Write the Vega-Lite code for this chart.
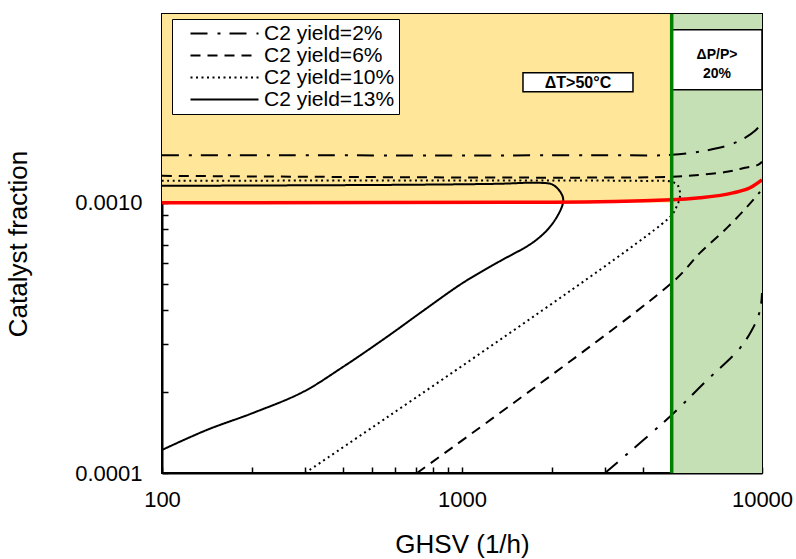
{
  "$schema": "https://vega.github.io/schema/vega-lite/v6.json",
  "width": 600,
  "height": 459,
  "autosize": {"type": "none"},
  "padding": {"left": 162, "top": 14, "right": 34, "bottom": 86},
  "background": "white",
  "config": {
    "view": {"stroke": "black", "strokeWidth": 2},
    "font": "Liberation Sans",
    "axis": {
      "grid": false,
      "domainColor": "black",
      "domainWidth": 2,
      "tickColor": "black",
      "tickWidth": 1.5,
      "labelColor": "black",
      "labelFont": "Liberation Sans",
      "labelFontSize": 22,
      "titleFont": "Liberation Sans",
      "titleFontSize": 26,
      "titleFontWeight": "normal",
      "titleColor": "black",
      "labelOverlap": false,
      "labelBound": false,
      "labelFlush": false
    }
  },
  "datasets": {
    "regions": [
      {"zone": "dT", "ghsv": 100, "ghsv2": 5000, "frac": 0.001, "frac2": 0.005},
      {"zone": "dP", "ghsv": 5000, "ghsv2": 10000, "frac": 0.0001, "frac2": 0.005}
    ],
    "boxes": [
      {"ghsv": 1597, "ghsv2": 3715, "frac": 0.003031, "frac2": 0.002577},
      {"ghsv": 5000, "ghsv2": 10000, "frac": 0.004372, "frac2": 0.002621}
    ],
    "noteT": [
      {"ghsv": 2436, "frac": 0.002782, "note": "ΔT>50°C"}
    ],
    "noteP": [
      {"ghsv": 7079, "frac": 0.003514, "note": "ΔP/P>\n20%"}
    ],
    "contours": [
      {"yield": "C2 yield=2%", "seg": "2a", "ord": 1, "ghsv": 100, "frac": 0.0015},
      {"yield": "C2 yield=2%", "seg": "2a", "ord": 2, "ghsv": 3000, "frac": 0.0015},
      {"yield": "C2 yield=2%", "seg": "2a", "ord": 3, "ghsv": 5000, "frac": 0.001506},
      {"yield": "C2 yield=2%", "seg": "2a", "ord": 4, "ghsv": 6711, "frac": 0.001572},
      {"yield": "C2 yield=2%", "seg": "2a", "ord": 5, "ghsv": 7824, "frac": 0.00164},
      {"yield": "C2 yield=2%", "seg": "2a", "ord": 6, "ghsv": 8776, "frac": 0.001741},
      {"yield": "C2 yield=2%", "seg": "2a", "ord": 7, "ghsv": 9478, "frac": 0.001848},
      {"yield": "C2 yield=2%", "seg": "2a", "ord": 8, "ghsv": 9848, "frac": 0.001944},
      {"yield": "C2 yield=2%", "seg": "2a", "ord": 9, "ghsv": 10000, "frac": 0.00203},
      {"yield": "C2 yield=2%", "seg": "2b", "ord": 1, "ghsv": 2997, "frac": 0.0001},
      {"yield": "C2 yield=2%", "seg": "2b", "ord": 2, "ghsv": 5000, "frac": 0.000164},
      {"yield": "C2 yield=2%", "seg": "2b", "ord": 3, "ghsv": 6457, "frac": 0.000217},
      {"yield": "C2 yield=2%", "seg": "2b", "ord": 4, "ghsv": 8447, "frac": 0.00029},
      {"yield": "C2 yield=2%", "seg": "2b", "ord": 5, "ghsv": 9262, "frac": 0.000339},
      {"yield": "C2 yield=2%", "seg": "2b", "ord": 6, "ghsv": 9698, "frac": 0.000378},
      {"yield": "C2 yield=2%", "seg": "2b", "ord": 7, "ghsv": 9923, "frac": 0.000419},
      {"yield": "C2 yield=2%", "seg": "2b", "ord": 8, "ghsv": 10000, "frac": 0.000464},
      {"yield": "C2 yield=6%", "seg": "6a", "ord": 1, "ghsv": 100, "frac": 0.001259},
      {"yield": "C2 yield=6%", "seg": "6a", "ord": 2, "ghsv": 5000, "frac": 0.001248},
      {"yield": "C2 yield=6%", "seg": "6a", "ord": 3, "ghsv": 6214, "frac": 0.00127},
      {"yield": "C2 yield=6%", "seg": "6a", "ord": 4, "ghsv": 7643, "frac": 0.001303},
      {"yield": "C2 yield=6%", "seg": "6a", "ord": 5, "ghsv": 8776, "frac": 0.001348},
      {"yield": "C2 yield=6%", "seg": "6a", "ord": 6, "ghsv": 9698, "frac": 0.001383},
      {"yield": "C2 yield=6%", "seg": "6a", "ord": 7, "ghsv": 10000, "frac": 0.001419},
      {"yield": "C2 yield=6%", "seg": "6b", "ord": 1, "ghsv": 708, "frac": 0.0001},
      {"yield": "C2 yield=6%", "seg": "6b", "ord": 2, "ghsv": 5050, "frac": 0.00051},
      {"yield": "C2 yield=6%", "seg": "6b", "ord": 3, "ghsv": 6214, "frac": 0.000653},
      {"yield": "C2 yield=6%", "seg": "6b", "ord": 4, "ghsv": 7643, "frac": 0.000808},
      {"yield": "C2 yield=6%", "seg": "6b", "ord": 5, "ghsv": 8913, "frac": 0.000966},
      {"yield": "C2 yield=6%", "seg": "6b", "ord": 6, "ghsv": 9848, "frac": 0.001098},
      {"yield": "C2 yield=10%", "seg": "10", "ord": 1, "ghsv": 300, "frac": 0.0001},
      {"yield": "C2 yield=10%", "seg": "10", "ord": 2, "ghsv": 4935, "frac": 0.000887},
      {"yield": "C2 yield=10%", "seg": "10", "ord": 3, "ghsv": 5169, "frac": 0.000958},
      {"yield": "C2 yield=10%", "seg": "10", "ord": 4, "ghsv": 5330, "frac": 0.001061},
      {"yield": "C2 yield=10%", "seg": "10", "ord": 5, "ghsv": 5250, "frac": 0.001156},
      {"yield": "C2 yield=10%", "seg": "10", "ord": 6, "ghsv": 5012, "frac": 0.001196},
      {"yield": "C2 yield=10%", "seg": "10", "ord": 7, "ghsv": 3920, "frac": 0.001206},
      {"yield": "C2 yield=10%", "seg": "10", "ord": 8, "ghsv": 100, "frac": 0.001206},
      {"yield": "C2 yield=13%", "seg": "13", "ord": 1, "ghsv": 100, "frac": 0.0001217},
      {"yield": "C2 yield=13%", "seg": "13", "ord": 2, "ghsv": 141, "frac": 0.0001443},
      {"yield": "C2 yield=13%", "seg": "13", "ord": 3, "ghsv": 201, "frac": 0.0001668},
      {"yield": "C2 yield=13%", "seg": "13", "ord": 4, "ghsv": 295, "frac": 0.0001995},
      {"yield": "C2 yield=13%", "seg": "13", "ord": 5, "ghsv": 401, "frac": 0.0002469},
      {"yield": "C2 yield=13%", "seg": "13", "ord": 6, "ghsv": 562, "frac": 0.000319},
      {"yield": "C2 yield=13%", "seg": "13", "ord": 7, "ghsv": 741, "frac": 0.000398},
      {"yield": "C2 yield=13%", "seg": "13", "ord": 8, "ghsv": 1008, "frac": 0.000506},
      {"yield": "C2 yield=13%", "seg": "13", "ord": 9, "ghsv": 1309, "frac": 0.0006},
      {"yield": "C2 yield=13%", "seg": "13", "ord": 10, "ghsv": 1752, "frac": 0.000723},
      {"yield": "C2 yield=13%", "seg": "13", "ord": 11, "ghsv": 2011, "frac": 0.000843},
      {"yield": "C2 yield=13%", "seg": "13", "ord": 12, "ghsv": 2171, "frac": 0.001},
      {"yield": "C2 yield=13%", "seg": "13", "ord": 13, "ghsv": 2154, "frac": 0.001071},
      {"yield": "C2 yield=13%", "seg": "13", "ord": 14, "ghsv": 2011, "frac": 0.001166},
      {"yield": "C2 yield=13%", "seg": "13", "ord": 15, "ghsv": 1820, "frac": 0.001186},
      {"yield": "C2 yield=13%", "seg": "13", "ord": 16, "ghsv": 1309, "frac": 0.001176},
      {"yield": "C2 yield=13%", "seg": "13", "ord": 17, "ghsv": 621, "frac": 0.001166},
      {"yield": "C2 yield=13%", "seg": "13", "ord": 18, "ghsv": 100, "frac": 0.001156}
    ],
    "redline": [
      {"ord": 1, "ghsv": 100, "frac": 0.001},
      {"ord": 2, "ghsv": 2000, "frac": 0.001005},
      {"ord": 3, "ghsv": 5000, "frac": 0.001026},
      {"ord": 4, "ghsv": 6214, "frac": 0.001044},
      {"ord": 5, "ghsv": 8006, "frac": 0.001089},
      {"ord": 6, "ghsv": 9120, "frac": 0.001137},
      {"ord": 7, "ghsv": 10000, "frac": 0.001217}
    ],
    "limit": [{"ghsv": 5000}]
  },
  "layer": [
    {
      "data": {"name": "regions"},
      "mark": {"type": "rect"},
      "encoding": {
        "x": {
          "field": "ghsv", "type": "quantitative",
          "scale": {"type": "log", "domain": [100, 10000], "nice": false},
          "axis": {
            "title": "GHSV (1/h)",
            "values": [100, 200, 300, 400, 500, 600, 700, 800, 900, 1000, 2000, 3000, 4000, 5000, 6000, 7000, 8000, 9000, 10000],
            "format": "d",
            "labelExpr": "indexof([100, 1000, 10000], datum.value) >= 0 ? datum.label : ''",
            "tickSize": -6,
            "labelPadding": 22,
            "titlePadding": 21
          }
        },
        "x2": {"field": "ghsv2"},
        "y": {
          "field": "frac", "type": "quantitative",
          "scale": {"type": "log", "domain": [0.0001, 0.005], "nice": false},
          "axis": {
            "title": "Catalyst fraction",
            "values": [0.0001, 0.0002, 0.0003, 0.0004, 0.0005, 0.0006, 0.0007, 0.0008, 0.0009, 0.001, 0.002, 0.003, 0.004, 0.005],
            "format": ".4f",
            "labelExpr": "indexof([0.0001, 0.001], datum.value) >= 0 ? datum.label : ''",
            "tickSize": -6,
            "labelPadding": 26,
            "titlePadding": 43
          }
        },
        "y2": {"field": "frac2"},
        "color": {
          "field": "zone", "type": "nominal",
          "scale": {"domain": ["dT", "dP"], "range": ["#FFE699", "#C5E0B4"]},
          "legend": null
        }
      }
    },
    {
      "data": {"name": "boxes"},
      "mark": {"type": "rect", "fill": "white", "stroke": "black", "strokeWidth": 1.5},
      "encoding": {
        "x": {"field": "ghsv", "type": "quantitative"},
        "x2": {"field": "ghsv2"},
        "y": {"field": "frac", "type": "quantitative"},
        "y2": {"field": "frac2"}
      }
    },
    {
      "data": {"name": "noteT"},
      "mark": {"type": "text", "fontWeight": "bold", "fontSize": 16, "font": "Liberation Sans", "align": "center", "baseline": "middle", "color": "black"},
      "encoding": {
        "x": {"field": "ghsv", "type": "quantitative"},
        "y": {"field": "frac", "type": "quantitative"},
        "text": {"field": "note"}
      }
    },
    {
      "data": {"name": "noteP"},
      "mark": {"type": "text", "fontWeight": "bold", "fontSize": 14, "font": "Liberation Sans", "align": "center", "baseline": "middle", "lineBreak": "\n", "lineHeight": 19, "color": "black"},
      "encoding": {
        "x": {"field": "ghsv", "type": "quantitative"},
        "y": {"field": "frac", "type": "quantitative"},
        "text": {"field": "note"}
      }
    },
    {
      "data": {"name": "contours"},
      "mark": {"type": "line", "color": "black", "strokeWidth": 2, "interpolate": "catmull-rom", "clip": true},
      "encoding": {
        "x": {"field": "ghsv", "type": "quantitative"},
        "y": {"field": "frac", "type": "quantitative"},
        "detail": {"field": "seg"},
        "order": {"field": "ord", "type": "quantitative"},
        "strokeDash": {
          "field": "yield", "type": "nominal",
          "scale": {
            "domain": ["C2 yield=2%", "C2 yield=6%", "C2 yield=10%", "C2 yield=13%"],
            "range": [[17, 10, 3, 9], [10, 7], [2, 3.5], [1, 0]]
          },
          "legend": {
            "title": null,
            "orient": "none",
            "legendX": 10,
            "legendY": 5,
            "fillColor": "white",
            "strokeColor": "black",
            "padding": 4,
            "symbolType": "M0.5,0H9",
            "symbolSize": 256,
            "symbolStrokeWidth": 2,
            "symbolStrokeColor": "black",
            "labelFont": "Liberation Sans",
            "labelFontSize": 21,
            "labelColor": "black",
            "labelOffset": 67,
            "rowPadding": 0
          }
        }
      }
    },
    {
      "data": {"name": "redline"},
      "mark": {"type": "line", "color": "#FF0000", "strokeWidth": 3.5, "interpolate": "monotone", "clip": true},
      "encoding": {
        "x": {"field": "ghsv", "type": "quantitative"},
        "y": {"field": "frac", "type": "quantitative"},
        "order": {"field": "ord", "type": "quantitative"}
      }
    },
    {
      "data": {"name": "limit"},
      "mark": {"type": "rule", "color": "#008000", "strokeWidth": 3.5},
      "encoding": {
        "x": {"field": "ghsv", "type": "quantitative"}
      }
    }
  ]
}
